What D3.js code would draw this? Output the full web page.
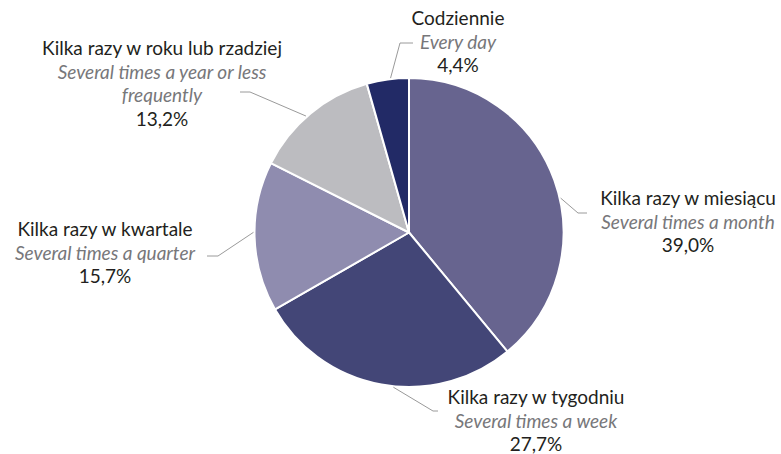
<!DOCTYPE html>
<html>
<head>
<meta charset="utf-8">
<script src="https://cdn.jsdelivr.net/npm/d3@7/dist/d3.min.js"></script>
<style>
  html, body { margin: 0; padding: 0; background: #fff; }
  svg { display: block; }
</style>
</head>
<body>
<div id="chart"></div>
<script>
// frequency categories, clockwise from 12 o'clock
var categories = ["Kilka razy w miesiącu", "Kilka razy w tygodniu", "Kilka razy w kwartale", "Kilka razy w roku lub rzadziej", "Codziennie"];
var categoriesEn = [["Several times a month"], ["Several times a week"], ["Several times a quarter"], ["Several times a year or less", "frequently"], ["Every day"]];
var shares = [39.0, 27.7, 15.7, 13.2, 4.4];
var colours = ["#67648f", "#434677", "#8f8caf", "#bcbcc0", "#222a66"];

// where each label block sits (centre x, first baseline), the elbow of its leader line
// and how far along its slice (0..1) the leader touches the edge
var labelLayout = [
    { cx: 688, y: 205, elbow: [578, 213], end: [587, 213], at: 0.55 },
    { cx: 536, y: 404, elbow: [433, 411], end: [438, 411], at: 0.455 },
    { cx: 105, y: 236, elbow: [218, 256], end: [207, 256], at: 0.53 },
    { cx: 162, y: 55, elbow: [250, 92], end: [240, 92], at: 0.46 },
    { cx: 458, y: 25, elbow: [400, 43], end: [413, 43], at: 0.57 }
];

var width = 781, height = 454;
var cx = 409, cy = 232.5, radius = 154.5;
var lineH = 23.6;

var data = categories.map(function (c, i) {
    return { name: c, en: categoriesEn[i], value: shares[i], colour: colours[i], layout: labelLayout[i] };
});

var svg = d3.select("#chart").append("svg")
    .attr("width", width)
    .attr("height", height);

var g = svg.append("g")
    .attr("transform", "translate(" + cx + "," + cy + ")");

var pie = d3.pie()
    .sort(null)
    .value(function (d) { return d.value; });

var arc = d3.arc()
    .innerRadius(0)
    .outerRadius(radius);

var arcs = pie(data);

g.selectAll("path.slice")
    .data(arcs)
    .enter()
    .append("path")
    .attr("class", "slice")
    .attr("d", arc)
    .attr("fill", function (d) { return d.data.colour; })
    .attr("stroke", "#fff")
    .attr("stroke-width", 2)
    .attr("stroke-linejoin", "round");

// leader lines
svg.append("g")
    .selectAll("polyline")
    .data(arcs)
    .enter()
    .append("polyline")
    .attr("points", function (d) {
        var l = d.data.layout;
        var a = d.startAngle + (d.endAngle - d.startAngle) * l.at;
        var start = [cx + (radius + 1) * Math.sin(a), cy - (radius + 1) * Math.cos(a)];
        return [start, l.elbow, l.end].map(function (p) { return p.join(","); }).join(" ");
    })
    .attr("fill", "none")
    .attr("stroke", "#9a9a9a")
    .attr("stroke-width", 1);

var fmt = function (v) { return v.toFixed(1).replace(".", ",") + "%"; };

var label = svg.append("g")
    .attr("font-family", "Lato, 'Open Sans', sans-serif")
    .attr("font-size", 19)
    .attr("text-anchor", "middle")
    .selectAll("text")
    .data(data)
    .enter()
    .append("text")
    .attr("x", function (d) { return d.layout.cx; })
    .attr("y", function (d) { return d.layout.y; });

label.append("tspan")
    .attr("fill", "#231f20")
    .text(function (d) { return d.name; });

label.each(function (d) {
    var t = d3.select(this);
    d.en.forEach(function (line) {
        t.append("tspan")
            .attr("x", d.layout.cx)
            .attr("dy", lineH)
            .attr("fill", "#77777a")
            .attr("font-style", "italic")
            .text(line);
    });
    t.append("tspan")
        .attr("x", d.layout.cx)
        .attr("dy", lineH)
        .attr("fill", "#231f20")
        .text(fmt(d.value));
});
</script>
</body>
</html>
